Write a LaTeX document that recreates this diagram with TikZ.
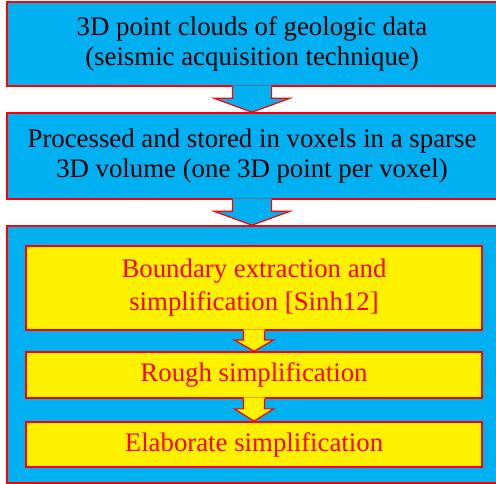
\documentclass[tikz,border=0pt]{standalone}
\usepackage{fontspec}
\setmainfont{Liberation Serif}
\usepackage{tikz}
\usetikzlibrary{calc,positioning}

\definecolor{skyblue}{RGB}{0,176,240}
\definecolor{boxred}{RGB}{255,0,0}

\begin{document}
\begin{tikzpicture}[y=-1pt,x=1pt,
	outerbox/.style={draw=boxred, line width=1.6pt, fill=skyblue, minimum width=490pt, inner sep=0pt, align=center, font=\fontsize{26.8}{30}\selectfont},
	innerbox/.style={draw=boxred, line width=1.6pt, fill=yellow, minimum width=456pt, inner sep=0pt, align=center, text=boxred, font=\fontsize{26.8}{33}\selectfont}]
	% block arrow: style, from node, to node, shaft half width, head half width
	\newcommand\DownArrow[5]{%
		\fill[#1] ($(#2.south)+(-#4,-1.5)$) -- ($(#2.south)!0.45!(#3.north)+(-#4,0)$) -- ($(#2.south)!0.45!(#3.north)+(-#5,0)$) -- (#3.north) -- ($(#2.south)!0.45!(#3.north)+(#5,0)$) -- ($(#2.south)!0.45!(#3.north)+(#4,0)$) -- ($(#2.south)+(#4,-1.5)$) -- cycle;
		\draw[draw=boxred, line width=1.2pt, line join=miter] ($(#2.south)+(-#4,0)$) -- ($(#2.south)!0.45!(#3.north)+(-#4,0)$) -- ($(#2.south)!0.45!(#3.north)+(-#5,0)$) -- (#3.north) -- ($(#2.south)!0.45!(#3.north)+(#5,0)$) -- ($(#2.south)!0.45!(#3.north)+(#4,0)$) -- ($(#2.south)+(#4,0)$);
	}
	\useasboundingbox (0,0) rectangle (496,483);

	\node[outerbox, minimum height=84pt] (clouds) at (252,44) {3D point clouds of geologic data\\(seismic acquisition technique)};
	\node[outerbox, minimum height=86pt] (voxels) at (252,156) {Processed and stored in voxels in a sparse\\3D volume (one 3D point per voxel)};
	\node[outerbox, minimum height=257pt] (simpl) at (252,354.5) {};

	\node[innerbox, minimum height=84pt] (boundary) at (254,288) {Boundary extraction and\\simplification [Sinh12]};
	\node[innerbox, minimum height=46pt] (rough) at (254,375) {Rough simplification};
	\node[innerbox, minimum height=45pt] (elab) at (254,444.5) {Elaborate simplification};

	\DownArrow{skyblue}{clouds}{voxels}{19.5}{38}
	\DownArrow{skyblue}{voxels}{simpl}{19.5}{38}
	\DownArrow{yellow}{boundary}{rough}{10.5}{19.5}
	\DownArrow{yellow}{rough}{elab}{10.5}{19.5}
\end{tikzpicture}
\end{document}
